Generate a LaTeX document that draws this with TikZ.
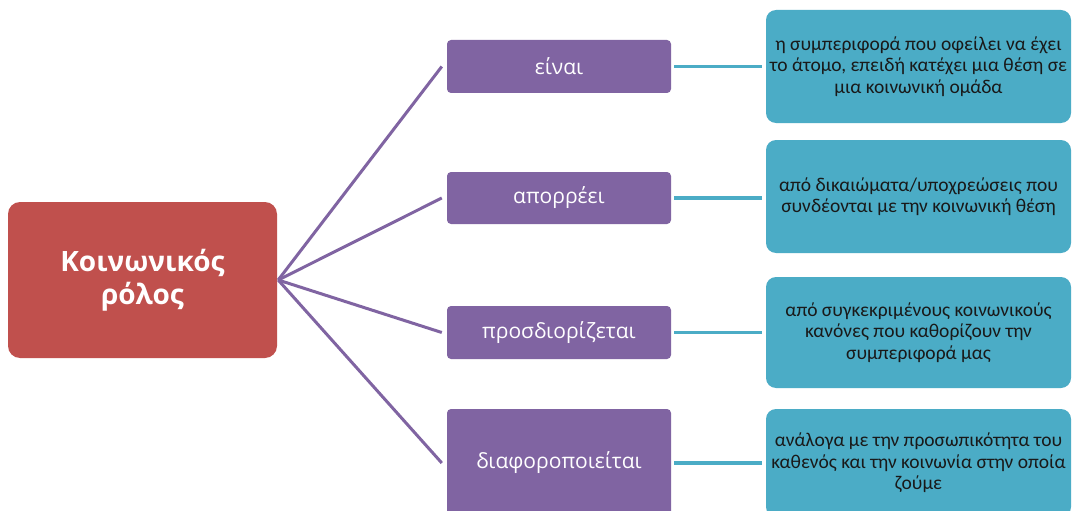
\documentclass[tikz,border=0pt]{standalone}
\usepackage{fontspec}
\setmainfont{Open Sans}
\newfontfamily\blfont{Carlito}
\definecolor{cred}{HTML}{C0504D}
\definecolor{cpurple}{HTML}{8064A2}
\definecolor{cblue}{HTML}{4BACC6}
\tikzset{
  rootbox/.style={fill=cred, rounded corners=12pt, text=white, align=center,
    font=\fontsize{28}{33}\selectfont\bfseries, inner sep=0pt},
  verbbox/.style={fill=cpurple, rounded corners=4pt, text=white, align=center,
    font=\fontsize{21}{25}\selectfont, inner sep=0pt, minimum width=224pt},
  descbox/.style={fill=cblue, rounded corners=10pt, text=black!90, align=center,
    font=\blfont\fontsize{19.5}{21.5}\selectfont, inner sep=0pt, minimum width=305pt},
  plink/.style={draw=cpurple, line width=3pt},
  blink/.style={draw=cblue, line width=3.4pt}
}
\begin{document}
\begin{tikzpicture}[x=1pt,y=-1pt]
\clip (0,0) rectangle (1072,511);
\fill[white] (0,0) rectangle (1072,511);
\node[rootbox, minimum width=269pt, minimum height=156pt] (root) at (142.5,280) {Κοινωνικός\\ρόλος};
\node[verbbox, minimum height=53pt] (v1) at (559,66.5) {είναι};
\node[verbbox, minimum height=52pt] (v2) at (559,198) {απορρέει};
\node[verbbox, minimum height=53pt] (v3) at (559,332.5) {προσδιορίζεται};
\node[verbbox, minimum height=108pt] (v4) at (559,463) {διαφοροποιείται};
\node[descbox, minimum height=113pt] (d1) at (918.5,66.5) {η συμπεριφορά που οφείλει να έχει\\το άτομο, επειδή κατέχει μια θέση σε\\μια κοινωνική ομάδα};
\node[descbox, minimum height=113pt] (d2) at (918.5,196.5) {από δικαιώματα/υποχρεώσεις που\\συνδέονται με την κοινωνική θέση};
\node[descbox, minimum height=111pt] (d3) at (918.5,332.5) {από συγκεκριμένους κοινωνικούς\\κανόνες που καθορίζουν την\\συμπεριφορά μας};
\node[descbox, minimum height=108pt] (d4) at (918.5,463) {ανάλογα με την προσωπικότητα του\\καθενός και την κοινωνία στην οποία\\ζούμε};
\foreach \v in {v1,v2,v3,v4}{
  \draw[plink] ([xshift=1pt]root.east) -- ([xshift=-5pt]\v.west);
}
\foreach \v/\d in {v1/d1,v2/d2,v3/d3,v4/d4}{
  \draw[blink] ([xshift=3pt]\v.east) -- ([xshift=-4pt]\d.west |- \v.east);
}
\end{tikzpicture}
\end{document}
